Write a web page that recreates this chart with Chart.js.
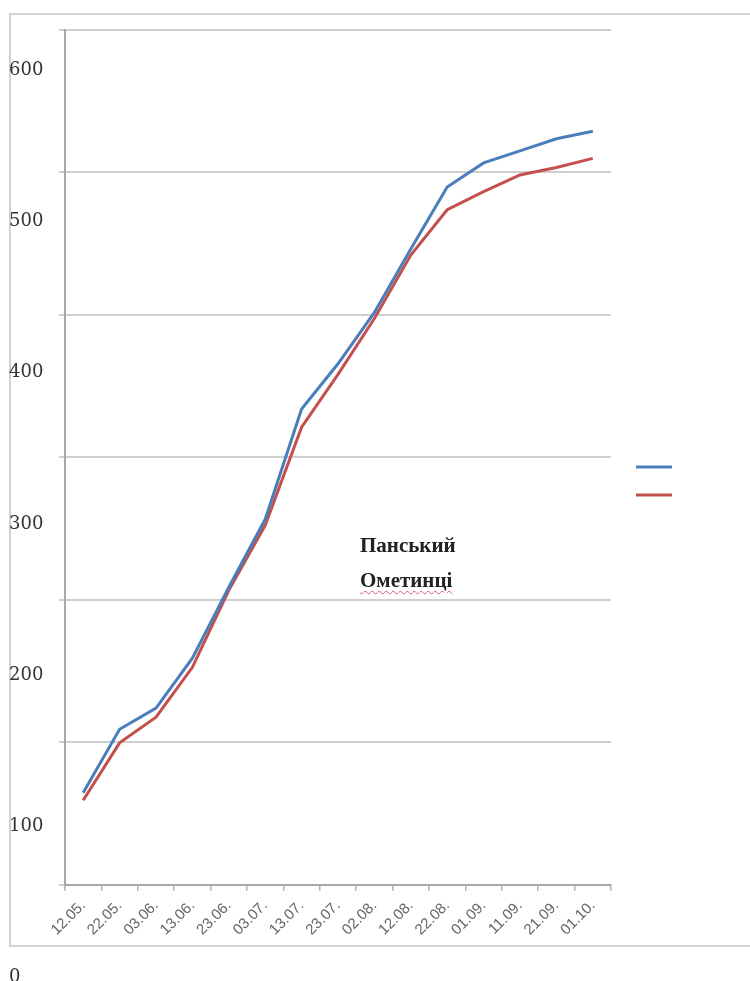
<!DOCTYPE html>
<html>
<head>
<meta charset="utf-8">
<script src="https://cdn.jsdelivr.net/npm/chart.js@4"></script>
<style>
  html, body { margin: 0; padding: 0; background: #fff; width: 750px; height: 981px; overflow: hidden; }
  #frame { position: absolute; left: 9px; top: 13px; width: 760px; height: 930px; border: 2px solid #d2d2d2; border-right: none; }
  #chart { position: absolute; left: 0; top: 0; }
  #names { position: absolute; left: 360px; top: 528px; font-family: 'Liberation Serif', serif; font-size: 21px; font-weight: bold; color: #222; line-height: 35px; }
  #names div:nth-child(2) { text-decoration: underline wavy #d8607a; text-decoration-thickness: 1px; text-underline-offset: 3px; }
</style>
</head>
<body>
<div id="frame"></div>
<canvas id="chart" width="750" height="981"></canvas>
<div id="names"></div>
<script>
  // Dates of measurement
  const dates = ['12.05.', '22.05.', '03.06.', '13.06.', '23.06.', '03.07.', '13.07.', '23.07.',
                 '02.08.', '12.08.', '22.08.', '01.09.', '11.09.', '21.09.', '01.10.'];

  const seriesNames = ['Панський', 'Ометинці'];

  // Values (left axis units)
  const panskyi   = [122, 164, 178, 211, 258, 303, 376, 406, 440, 482, 523, 539, 547, 555, 560];
  const ometyntsi = [117, 155, 172, 205, 256, 299, 364, 399, 436, 478, 508, 520, 531, 536, 542];

  // Left tick labels
  const yTicks = [600, 500, 400, 300, 200, 100, 0];

  const seriesColors = ['#4A7EBB', '#C4504D'];

  document.getElementById('names').innerHTML =
    seriesNames.map(n => '<div>' + n + '</div>').join('');

  const ctx = document.getElementById('chart').getContext('2d');

  new Chart(ctx, {
    type: 'line',
    data: {
      labels: dates,
      datasets: [
        {
          label: seriesNames[0],
          data: panskyi,
          borderColor: seriesColors[0],
          backgroundColor: seriesColors[0],
          borderWidth: 3,
          pointRadius: 0,
          tension: 0,
          yAxisID: 'y'
        },
        {
          label: seriesNames[1],
          data: ometyntsi,
          borderColor: seriesColors[1],
          backgroundColor: seriesColors[1],
          borderWidth: 3,
          pointRadius: 0,
          tension: 0,
          yAxisID: 'y'
        }
      ]
    },
    options: {
      responsive: false,
      animation: false,
      devicePixelRatio: 1,
      layout: { padding: { left: 9, top: 30, right: 67, bottom: 36 } },
      plugins: {
        tooltip: { enabled: false },
        legend: {
          position: 'right',
          fullSize: false,
          title: { display: true, text: '', padding: { top: 33, bottom: 0 } },
          labels: {
            boxWidth: 36,
            boxHeight: 3,
            padding: 25,
            font: { size: 2 },
            generateLabels: function(chart) {
              return chart.data.datasets.map((d, i) => ({
                text: '',
                fillStyle: d.borderColor,
                strokeStyle: d.borderColor,
                lineWidth: 0,
                datasetIndex: i
              }));
            }
          }
        }
      },
      scales: {
        x: {
          offset: true,
          grid: { offset: true, drawOnChartArea: false, tickLength: 6, color: '#b0b0b0', lineWidth: 1.5 },
          border: { color: '#a8a8a8', width: 2 },
          ticks: {
            minRotation: 45,
            maxRotation: 45,
            autoSkip: false,
            padding: 6,
            color: '#666',
            font: { family: 'Liberation Sans', size: 15 }
          }
        },
        yg: {
          position: 'left',
          min: 0,
          max: 6,
          ticks: { display: false, stepSize: 1 },
          grid: { color: '#cfcfcf', lineWidth: 2, tickLength: 6 },
          border: { color: '#a8a8a8', width: 2 }
        },
        y: {
          position: 'left',
          min: 61,
          max: 627,
          afterBuildTicks: function(scale) {
            scale.ticks = yTicks.map(v => ({ value: v }));
          },
          afterFit: function(scale) { scale.width = 50; },
          grid: { display: false },
          border: { display: false },
          ticks: {
            autoSkip: false,
            crossAlign: 'far',
            padding: 0,
            color: '#333',
            font: { family: 'DejaVu Serif', size: 18 }
          }
        }
      }
    }
  });
</script>
</body>
</html>
